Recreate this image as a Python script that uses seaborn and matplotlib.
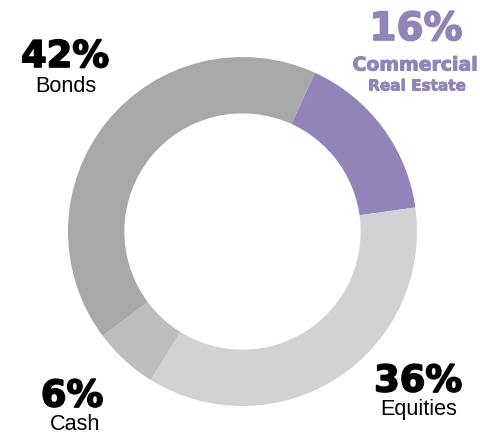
import matplotlib
matplotlib.use("Agg")
import matplotlib.pyplot as plt
import matplotlib.patheffects as pe
import seaborn as sns

# allocation, clockwise from the purple wedge
categories = ["Commercial Real Estate", "Equities", "Cash", "Bonds"]
shares = [16, 36, 6, 42]
colors = ["#9184B8", "#D1D2D4", "#BCBDBF", "#A7A8AA"]

W, H = 481, 434

sns.set_theme(style="white")

fig = plt.figure(figsize=(W / 100, H / 100), dpi=100)
ax = fig.add_axes([0, 0, 1, 1])

cx, cy, R = 242.5, H - 231.5, 174.5
ax.pie(shares, colors=colors, startangle=90 - 24.5, counterclock=False,
       center=(cx, cy), radius=R, frame=True,
       wedgeprops=dict(width=R * 0.323, linewidth=0))
ax.set_xlim(0, W)
ax.set_ylim(0, H)
ax.set_aspect("equal")
ax.axis("off")

purple = colors[0]


def y(px):
    return H - px


def heavy(x, ypx, s, size, color, stroke=1.2):
    # DejaVu bold plus a thin outline to get the heavy look of the original
    ax.text(x, y(ypx), s, fontsize=size, color=color, family="DejaVu Sans",
            weight="bold", ha="center", va="baseline",
            path_effects=[pe.withStroke(linewidth=stroke, foreground=color)])


def label(x, ypx, s):
    ax.text(x, y(ypx), s, fontsize=15.6, color="black", family="Liberation Sans",
            ha="center", va="baseline")


# Bonds
heavy(65, 67, f"{shares[3]}%", 26.5, "black")
label(66, 92, "Bonds")
# Commercial Real Estate
heavy(416, 40, f"{shares[0]}%", 28, purple)
heavy(415, 70.5, "Commercial", 13.6, purple, 0.7)
heavy(417, 90.5, "Real Estate", 11.0, purple, 0.6)
# Cash
heavy(72, 406.5, f"{shares[2]}%", 26.5, "black")
label(75, 429.5, "Cash")
# Equities
heavy(418, 391.5, f"{shares[1]}%", 26.5, "black")
label(419, 415, "Equities")

fig.savefig("out.png", dpi=100)
